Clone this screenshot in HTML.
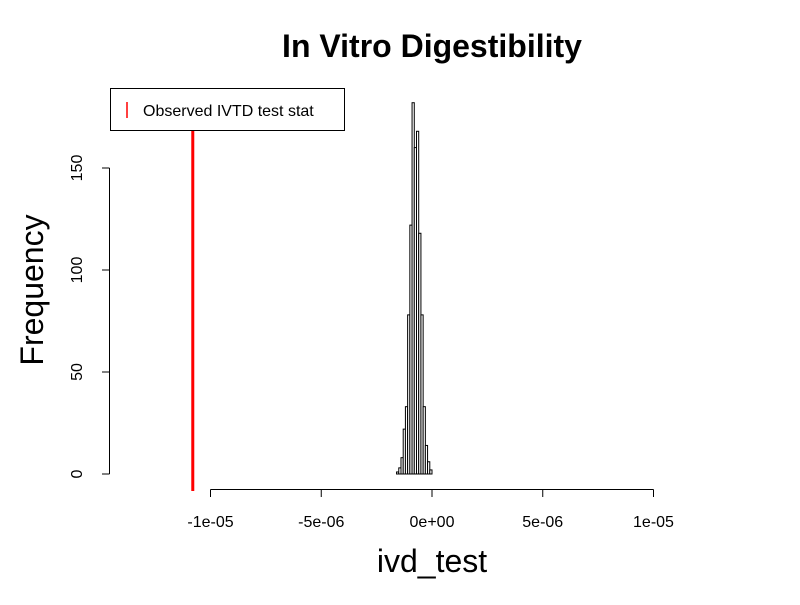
<!DOCTYPE html>
<html><head><meta charset="utf-8"><style>body{margin:0;background:#fff}svg{font-family:"Liberation Sans",sans-serif}</style></head><body>
<svg id="c" width="800" height="600" xmlns="http://www.w3.org/2000/svg">
<text x="432" y="57" font-size="32" font-weight="bold" text-anchor="middle">In Vitro Digestibility</text>
<text x="432" y="572" font-size="32" text-anchor="middle">ivd_test</text>
<text transform="translate(43,290) rotate(-90)" font-size="32" text-anchor="middle">Frequency</text>
<g id="bars"></g>
<g id="axes"></g>
<line x1="193" x2="193" y1="88" y2="491" stroke="#f00" stroke-width="3" id="obs"/>
<g>
<rect x="110.5" y="88.5" width="234" height="42" fill="#fff" stroke="#000"/>
<line x1="127" x2="127" y1="102" y2="118" stroke="#f00" stroke-width="1.5"/>
<text x="143" y="116" font-size="16">Observed IVTD test stat</text>
</g>
</svg>
<script>
const binStart = -1.6e-6;
const binWidth = 1e-7;
const counts = [1,3,8,22,33,78,122,182,160,168,118,78,33,14,6,2];
const xTicks = [-1e-5,-5e-6,0,5e-6,1e-5];
const xTickLabels = ["-1e-05","-5e-06","0e+00","5e-06","1e-05"];
const yTicks = [0,50,100,150];
const observed = -1.08e-5;
const ns="http://www.w3.org/2000/svg";
const X=v=>432+v*2.215e7, Y=v=>474-v*2.04;
function mk(t,a,p){const e=document.createElementNS(ns,t);for(const k in a)e.setAttribute(k,a[k]);p.appendChild(e);return e;}
const bars=document.getElementById('bars'), axes=document.getElementById('axes');
counts.forEach((c,i)=>{const x0=X(binStart+i*binWidth),x1=X(binStart+(i+1)*binWidth);
const r=mk('rect',{x:x0,y:Y(c),width:x1-x0,height:Y(0)-Y(c),fill:'#fff',stroke:'#000','stroke-width':1},bars);

});
const o=document.getElementById('obs');o.setAttribute('x1',X(observed));o.setAttribute('x2',X(observed));
mk('line',{x1:X(xTicks[0]),x2:X(xTicks[xTicks.length-1]),y1:489.5,y2:489.5,stroke:'#000'},axes);
xTicks.forEach((v,i)=>{mk('line',{x1:X(v),x2:X(v),y1:489.5,y2:497,stroke:'#000'},axes);
const t=mk('text',{x:X(v),y:527,'font-size':16,'text-anchor':'middle'},axes);t.textContent=xTickLabels[i];

});
mk('line',{x1:109.5,x2:109.5,y1:Y(yTicks[0]),y2:Y(yTicks[yTicks.length-1]),stroke:'#000'},axes);
yTicks.forEach(v=>{mk('line',{x1:102,x2:109.5,y1:Y(v),y2:Y(v),stroke:'#000'},axes);
const t=mk('text',{transform:`translate(82,${Y(v)}) rotate(-90)`,'font-size':16,'text-anchor':'middle'},axes);t.textContent=v;

});
</script>
</body></html>
